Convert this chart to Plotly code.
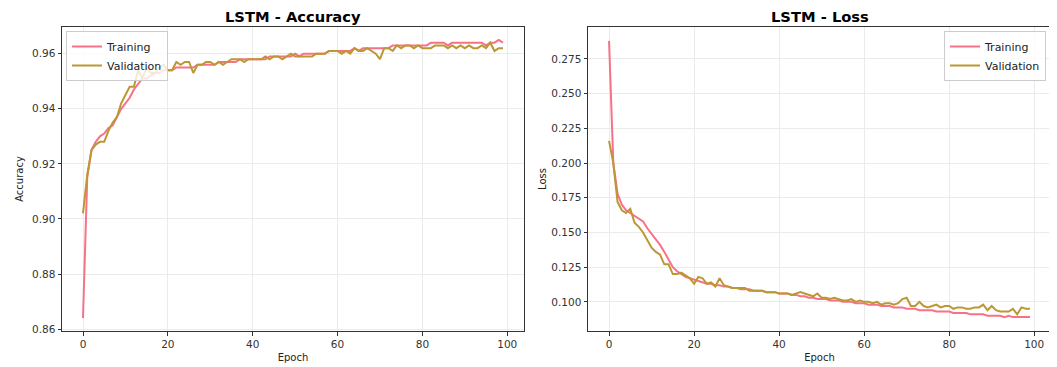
import plotly.graph_objects as go

epochs = list(range(100))

acc_train = [0.864, 0.915, 0.925, 0.928, 0.930, 0.931, 0.933, 0.934, 0.937, 0.940,
             0.942, 0.944, 0.947, 0.949, 0.951, 0.951, 0.952, 0.953, 0.953, 0.954,
             0.954, 0.954, 0.955, 0.955, 0.955, 0.955, 0.955, 0.956, 0.956, 0.956,
             0.956, 0.956, 0.957, 0.957, 0.957, 0.957, 0.957, 0.958, 0.958, 0.958,
             0.958, 0.958, 0.958, 0.958, 0.959, 0.959, 0.959, 0.959, 0.959, 0.959,
             0.960, 0.959, 0.960, 0.960, 0.960, 0.960, 0.960, 0.960, 0.961, 0.961,
             0.961, 0.961, 0.961, 0.961, 0.962, 0.961, 0.962, 0.962, 0.962, 0.962,
             0.962, 0.962, 0.962, 0.963, 0.963, 0.963, 0.963, 0.963, 0.963, 0.963,
             0.963, 0.963, 0.964, 0.964, 0.964, 0.964, 0.963, 0.964, 0.964, 0.964,
             0.964, 0.964, 0.964, 0.964, 0.964, 0.963, 0.964, 0.964, 0.965, 0.964]

acc_val = [0.902, 0.916, 0.925, 0.927, 0.928, 0.928, 0.932, 0.935, 0.937, 0.942,
           0.945, 0.948, 0.948, 0.954, 0.951, 0.955, 0.953, 0.953, 0.955, 0.956,
           0.954, 0.954, 0.957, 0.956, 0.957, 0.957, 0.953, 0.956, 0.956, 0.957,
           0.957, 0.956, 0.957, 0.956, 0.957, 0.958, 0.958, 0.958, 0.957, 0.958,
           0.958, 0.958, 0.958, 0.959, 0.958, 0.959, 0.959, 0.958, 0.959, 0.960,
           0.959, 0.959, 0.959, 0.959, 0.959, 0.960, 0.960, 0.960, 0.961, 0.961,
           0.961, 0.960, 0.961, 0.960, 0.962, 0.961, 0.961, 0.962, 0.961, 0.960,
           0.958, 0.962, 0.962, 0.961, 0.963, 0.962, 0.963, 0.963, 0.962, 0.963,
           0.962, 0.962, 0.962, 0.963, 0.963, 0.963, 0.962, 0.963, 0.962, 0.963,
           0.962, 0.963, 0.962, 0.962, 0.963, 0.962, 0.964, 0.961, 0.962, 0.962]

loss_train = [0.288, 0.200, 0.178, 0.170, 0.166, 0.164, 0.162, 0.160, 0.158, 0.153,
              0.149, 0.145, 0.141, 0.136, 0.130, 0.125, 0.122, 0.120, 0.118, 0.117,
              0.116, 0.115, 0.114, 0.113, 0.113, 0.112, 0.112, 0.111, 0.111, 0.110,
              0.110, 0.109, 0.109, 0.109, 0.108, 0.108, 0.108, 0.107, 0.107, 0.107,
              0.106, 0.106, 0.106, 0.105, 0.105, 0.104, 0.104, 0.103, 0.103, 0.102,
              0.102, 0.102, 0.101, 0.101, 0.101, 0.100, 0.100, 0.100, 0.099, 0.099,
              0.099, 0.098, 0.098, 0.098, 0.097, 0.097, 0.097, 0.096, 0.096, 0.096,
              0.095, 0.095, 0.095, 0.094, 0.094, 0.094, 0.094, 0.093, 0.093, 0.093,
              0.093, 0.092, 0.092, 0.092, 0.092, 0.091, 0.091, 0.091, 0.091, 0.090,
              0.090, 0.090, 0.090, 0.089, 0.090, 0.089, 0.089, 0.089, 0.089, 0.089]

loss_val = [0.216, 0.200, 0.172, 0.166, 0.164, 0.167, 0.157, 0.154, 0.150, 0.144,
            0.139, 0.136, 0.134, 0.127, 0.127, 0.120, 0.120, 0.121, 0.119, 0.117,
            0.113, 0.118, 0.117, 0.113, 0.114, 0.111, 0.117, 0.112, 0.111, 0.110,
            0.110, 0.110, 0.110, 0.108, 0.108, 0.108, 0.108, 0.107, 0.107, 0.107,
            0.106, 0.106, 0.106, 0.105, 0.106, 0.107, 0.106, 0.105, 0.104, 0.106,
            0.103, 0.103, 0.102, 0.103, 0.102, 0.101, 0.101, 0.102, 0.100, 0.101,
            0.100, 0.100, 0.099, 0.100, 0.098, 0.099, 0.099, 0.098, 0.099, 0.102,
            0.103, 0.097, 0.097, 0.100, 0.097, 0.096, 0.097, 0.098, 0.096, 0.097,
            0.097, 0.095, 0.096, 0.096, 0.095, 0.095, 0.096, 0.096, 0.098, 0.094,
            0.097, 0.094, 0.093, 0.093, 0.093, 0.095, 0.091, 0.096, 0.095, 0.095]

x_ticks = [0, 20, 40, 60, 80, 100]
acc_ticks = [0.86, 0.88, 0.90, 0.92, 0.94, 0.96]
loss_ticks = [0.100, 0.125, 0.150, 0.175, 0.200, 0.225, 0.250, 0.275]

TRAIN_COLOR = "#f77189"
VAL_COLOR = "#bb9832"
FONT = "DejaVu Sans"

# the page body has an 8px default margin, so the figure is sized to fill the window
OFF = 8
W, H = 1057 - OFF, 367 - OFF
ML, MR, MT, MB = 62 - OFF, 1057 - 1051, 27 - OFF, 367 - 331
PW = W - ML - MR
PH = H - MT - MB

fig = go.Figure()
fig.add_trace(go.Scatter(x=epochs, y=acc_train, mode="lines", name="Training",
                         line=dict(color=TRAIN_COLOR, width=2), xaxis="x", yaxis="y",
                         legend="legend"))
fig.add_trace(go.Scatter(x=epochs, y=acc_val, mode="lines", name="Validation",
                         line=dict(color=VAL_COLOR, width=2), xaxis="x", yaxis="y",
                         legend="legend"))
fig.add_trace(go.Scatter(x=epochs, y=loss_train, mode="lines", name="Training",
                         line=dict(color=TRAIN_COLOR, width=2), xaxis="x2", yaxis="y2",
                         legend="legend2"))
fig.add_trace(go.Scatter(x=epochs, y=loss_val, mode="lines", name="Validation",
                         line=dict(color=VAL_COLOR, width=2), xaxis="x2", yaxis="y2",
                         legend="legend2"))

common = dict(showline=True, linecolor="#333333", linewidth=1, mirror=True,
              ticks="outside", ticklen=3.5, tickcolor="#333333", tickwidth=0.8,
              showgrid=True, gridcolor="#ebebeb", gridwidth=1, zeroline=False,
              automargin=False,
              tickfont=dict(family=FONT, size=10.5, color="#333333"))
lab_font = dict(family=FONT, size=10, color="#222222")
leg_font = dict(family=FONT, size=11, color="#222222")

fig.update_layout(
    width=W, height=H,
    margin=dict(l=ML, r=MR, t=MT, b=MB, autoexpand=False),
    plot_bgcolor="white", paper_bgcolor="white",
    font=dict(family=FONT, size=10, color="#222222"),
    xaxis=dict(domain=[0, (524 - 62) / PW], range=[-4.95, 103.95], tickvals=x_ticks,
               anchor="y", title=dict(text="Epoch", font=lab_font, standoff=4), **common),
    yaxis=dict(domain=[0, 1], range=[0.8593, 0.9697], tickvals=acc_ticks,
               tickformat=".2f", anchor="x",
               title=dict(text="Accuracy", font=lab_font, standoff=6), **common),
    xaxis2=dict(domain=[(588 - 62) / PW, 1], range=[-4.95, 103.95], tickvals=x_ticks,
                anchor="y2", title=dict(text="Epoch", font=lab_font, standoff=4), **common),
    yaxis2=dict(domain=[0, 1], range=[0.0790, 0.2980], tickvals=loss_ticks,
                tickformat=".3f", anchor="x2",
                title=dict(text="Loss", font=lab_font, standoff=2), **common),
    legend=dict(x=(66 - 62) / PW, y=1 - 4 / PH, xanchor="left", yanchor="top",
                bgcolor="rgba(255,255,255,0.8)", bordercolor="#cccccc", borderwidth=1,
                font=leg_font, tracegroupgap=0, itemwidth=30),
    legend2=dict(x=(1046 - 62) / PW, y=1 - 4 / PH, xanchor="right", yanchor="top",
                 bgcolor="rgba(255,255,255,0.8)", bordercolor="#cccccc", borderwidth=1,
                 font=leg_font, tracegroupgap=0, itemwidth=30),
    annotations=[
        dict(text="<b>LSTM - Accuracy</b>", x=0.5, y=1 + 10 / PH,
             xref="x domain", yref="y domain", showarrow=False,
             xanchor="center", yanchor="middle", borderpad=0,
             font=dict(family=FONT, size=14.7, color="#000000")),
        dict(text="<b>LSTM - Loss</b>", x=0.5, y=1 + 10 / PH,
             xref="x2 domain", yref="y2 domain", showarrow=False,
             xanchor="center", yanchor="middle", borderpad=0,
             font=dict(family=FONT, size=14.7, color="#000000")),
    ],
)

fig.write_html("out.html")
